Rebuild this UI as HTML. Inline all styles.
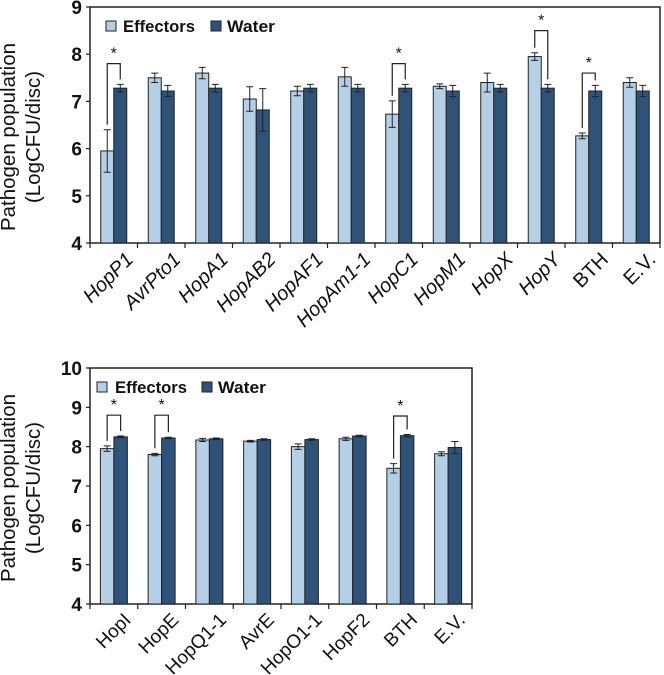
<!DOCTYPE html>
<html><head><meta charset="utf-8"><style>
body{margin:0;background:#fff;width:664px;height:675px;overflow:hidden}
svg{display:block;font-family:"Liberation Sans",Arial,sans-serif}
</style></head><body>
<svg id="c" width="664" height="675" viewBox="0 0 664 675"></svg>
<script>
const catsA=["HopP1","AvrPto1","HopA1","HopAB2","HopAF1","HopAm1-1","HopC1","HopM1","HopX","HopY","BTH","E.V."];
const effA=[5.95,7.5,7.6,7.05,7.22,7.52,6.73,7.32,7.4,7.95,6.27,7.4];
const effErrA=[0.45,0.1,0.12,0.26,0.1,0.2,0.28,0.05,0.2,0.08,0.06,0.1];
const watA=[7.28,7.22,7.28,6.82,7.28,7.28,7.28,7.22,7.28,7.28,7.22,7.22];
const watErrA=[0.08,0.12,0.08,0.45,0.08,0.08,0.08,0.12,0.08,0.08,0.12,0.12];
const sigA=[0,6,9,10];
const sigTopA=[7.8,7.8,8.5,7.6];
const ticksA=[4,5,6,7,8,9];
const catsB=["HopI","HopE","HopQ1-1","AvrE","HopO1-1","HopF2","BTH","E.V."];
const effB=[7.95,7.8,8.17,8.14,8.0,8.2,7.45,7.82];
const effErrB=[0.07,0.03,0.04,0.02,0.07,0.04,0.12,0.05];
const watB=[8.25,8.22,8.2,8.18,8.18,8.27,8.28,7.98];
const watErrB=[0.02,0.02,0.02,0.02,0.02,0.02,0.03,0.15];
const sigB=[0,1,6];
const sigTopB=[8.8,8.8,8.78];
const ticksB=[4,5,6,7,8,9,10];
const italicNo=["BTH","E.V."];

const svg=document.getElementById('c');
const NS="http://www.w3.org/2000/svg";
function mk(t,a,p){const e=document.createElementNS(NS,t);for(const k in a)e.setAttribute(k,a[k]);(p||svg).appendChild(e);return e;}

function chart(o){
  const g=mk('g',{});
  
  
  const y=v=>o.y0-(v-o.vmin)/(o.vmax-o.vmin)*(o.y0-o.y1);
  const gw=(o.x1-o.x0)/o.cats.length;
  const cx=i=>o.x0+gw*(i+0.5);
  const fr=mk('rect',{x:o.x0,y:o.y1,width:o.x1-o.x0,height:o.y0-o.y1,fill:'none',stroke:'#222','stroke-width':1.5},g);
  
  o.ticks.forEach(t=>{
    mk('line',{x1:o.x0-4,x2:o.x0,y1:y(t),y2:y(t),stroke:'#222','stroke-width':1.2},g);
    const tx=mk('text',{x:o.x0-8,y:y(t)+7,'text-anchor':'end','font-size':19,'font-weight':'bold',fill:'#111'},g);
    tx.textContent=t;
    
  });
  for(let i=0;i<=o.cats.length;i++){const xx=o.x0+gw*i;mk('line',{x1:xx,x2:xx,y1:o.y0,y2:o.y0+5,stroke:'#222','stroke-width':1.2},g);}
  const bw=o.bw;
  o.cats.forEach((c,i)=>{
    [[o.eff[i],o.effErr[i],cx(i)-bw,'#b5cfe6','bar-effectors'],[o.wat[i],o.watErr[i],cx(i),'#2f5378','bar-water']].forEach(([v,e,x,col,n])=>{
      const r=mk('rect',{x:x,y:y(v),width:bw,height:o.y0-y(v),fill:col,stroke:'#222','stroke-width':1},g);
      
      const m=x+bw/2;
      mk('path',{d:`M${m} ${y(v+e)}V${y(v-e)}M${m-3.5} ${y(v+e)}H${m+3.5}M${m-3.5} ${y(v-e)}H${m+3.5}`,stroke:'#222','stroke-width':1,fill:'none'},g);
    });
    const lx=cx(i)+o.lxo, ly=o.y0+7;
    const it=o.italic && !italicNo.includes(c);
    const t=mk('text',{x:lx,y:ly,'text-anchor':'end','font-size':o.fs,fill:'#111','font-style':it?'italic':'normal',transform:`rotate(-45 ${lx} ${ly})`,dy:'0.75em'},g);
    t.textContent=c;
    
  });
  o.sig.forEach((i,k)=>{
    const top=y(o.sigTop[k]);
    const l=cx(i)-bw/2, r=cx(i)+bw/2;
    const lb=y(o.eff[i]+o.effErr[i])-5, rb=y(o.wat[i]+o.watErr[i])-5;
    const p=mk('path',{d:`M${l} ${lb}V${top}H${r}V${rb}`,stroke:'#222','stroke-width':1.2,fill:'none'},g);
    
    const s=mk('text',{x:(l+r)/2,y:top-5,'text-anchor':'middle','font-size':16,fill:'#111'},g);
    s.textContent='*';
    
  });
  const L=o.leg;
  const lg=mk('g',{},g);
  
  mk('rect',{x:L.b1,y:L.y-L.bs-1,width:L.bs,height:L.bs,fill:'#b5cfe6',stroke:'#222','stroke-width':1},lg);
  const t1=mk('text',{x:L.t1,y:L.y,'font-size':L.fs,'font-weight':'bold',fill:'#111',textLength:L.w1,lengthAdjust:'spacingAndGlyphs'},lg);t1.textContent='Effectors';
  
  mk('rect',{x:L.b2,y:L.y-L.bs-1,width:L.bs,height:L.bs,fill:'#2f5378',stroke:'#222','stroke-width':1},lg);
  const t2=mk('text',{x:L.t2,y:L.y,'font-size':L.fs,'font-weight':'bold',fill:'#111',textLength:L.w2,lengthAdjust:'spacingAndGlyphs'},lg);t2.textContent='Water';
  
  const ym=o.ym;
  const a=mk('text',{x:o.tx,y:ym,'text-anchor':'middle','font-size':20.5,fill:'#111',transform:`rotate(-90 ${o.tx} ${ym})`},g);
  a.textContent='Pathogen population';
  const b=mk('text',{x:o.tx+25,y:ym,'text-anchor':'middle','font-size':20.5,fill:'#111',transform:`rotate(-90 ${o.tx+25} ${ym})`},g);
  b.textContent='(LogCFU/disc)';
}
chart({name:'chart-top',cats:catsA,eff:effA,effErr:effErrA,wat:watA,watErr:watErrA,sig:sigA,sigTop:sigTopA,ticks:ticksA,vmin:4,vmax:9,x0:90,x1:660,y0:243,y1:7,bw:13,fs:20,lxo:10,tx:15,ym:137,italic:true,
  leg:{y:32,bs:10,fs:17,b1:106,t1:123,w1:72,b2:211,t2:227,w2:48}});
chart({name:'chart-bottom',cats:catsB,eff:effB,effErr:effErrB,wat:watB,watErr:watErrB,sig:sigB,sigTop:sigTopB,ticks:ticksB,vmin:4,vmax:10,x0:90,x1:472,y0:604,y1:368,bw:13.5,fs:19,lxo:8,tx:15,ym:488,italic:false,
  leg:{y:393,bs:10,fs:17,b1:97,t1:115,w1:72,b2:202,t2:218,w2:48}});
</script>
</body></html>
